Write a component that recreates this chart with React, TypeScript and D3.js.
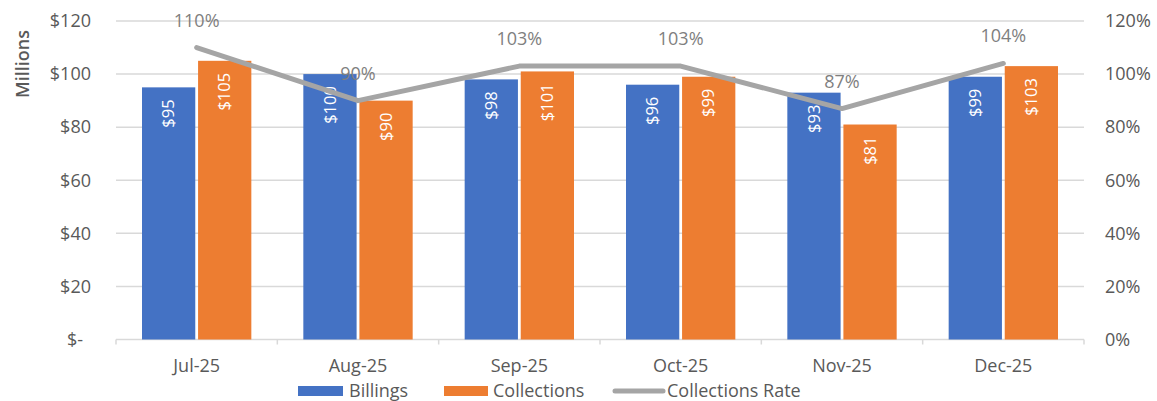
import { useEffect, useRef } from 'react'
import * as d3 from 'd3'

const months = ['Jul-25', 'Aug-25', 'Sep-25', 'Oct-25', 'Nov-25', 'Dec-25']
const billings = [95, 100, 98, 96, 93, 99]
const collections = [105, 90, 101, 99, 81, 103]
const rates = [1.1, 0.9, 1.03, 1.03, 0.87, 1.04]
const leftTicks = [0, 20, 40, 60, 80, 100, 120]
const rightTicks = [0, 0.2, 0.4, 0.6, 0.8, 1.0, 1.2]

const FONT = '"Open Sans", "Liberation Sans", sans-serif'
const BLUE = '#4472c4'
const ORANGE = '#ed7d31'
const GRAY = '#a5a5a5'
const TEXT = '#595959'
const FS = 18

export default function App() {
  const svgRef = useRef<SVGSVGElement>(null)

  useEffect(() => {
    document.body.style.margin = '0'
    const W = 1157
    const H = 401
    const left = 116
    const right = 1084
    const top = 21
    const bottom = 339.5

    const svg = d3.select(svgRef.current)
    svg.selectAll('*').remove()
    svg.attr('width', W).attr('height', H).style('font-family', FONT)

    const x = d3.scaleBand<string>().domain(months).range([left, right])
    const x1 = d3.scaleBand<string>()
      .domain(['b', 'c'])
      .range([26, x.bandwidth() - 26])
      .paddingInner(0.05)
    const y = d3.scaleLinear().domain([0, 120]).range([bottom, top])
    const yR = d3.scaleLinear().domain([0, 1.2]).range([bottom, top])

    // gridlines
    svg.append('g').selectAll('line')
      .data(leftTicks.slice(1))
      .join('line')
      .attr('x1', left).attr('x2', right)
      .attr('y1', (d) => y(d)).attr('y2', (d) => y(d))
      .attr('stroke', '#d9d9d9').attr('stroke-width', 1.5)

    // bottom axis line + ticks
    svg.append('line')
      .attr('x1', left).attr('x2', right).attr('y1', bottom).attr('y2', bottom)
      .attr('stroke', '#d9d9d9').attr('stroke-width', 1.5)
    svg.append('g').selectAll('line')
      .data(d3.range(months.length + 1))
      .join('line')
      .attr('x1', (i) => left + i * x.bandwidth()).attr('x2', (i) => left + i * x.bandwidth())
      .attr('y1', bottom).attr('y2', bottom + 5)
      .attr('stroke', '#d9d9d9').attr('stroke-width', 1.5)

    // left axis labels
    svg.append('g').selectAll('text')
      .data(leftTicks)
      .join('text')
      .attr('x', (d) => (d === 0 ? 83 : 91))
      .attr('y', (d) => y(d))
      .attr('dy', '0.35em')
      .attr('text-anchor', 'end')
      .attr('fill', TEXT).attr('font-size', FS)
      .text((d) => (d === 0 ? '$-' : `$${d}`))

    // right axis labels
    svg.append('g').selectAll('text')
      .data(rightTicks)
      .join('text')
      .attr('x', 1105)
      .attr('y', (d) => yR(d))
      .attr('dy', '0.35em')
      .attr('fill', TEXT).attr('font-size', FS)
      .text((d) => `${Math.round(d * 100)}%`)

    svg.append('text')
      .attr('transform', 'translate(29,64) rotate(-90)')
      .attr('text-anchor', 'middle')
      .attr('fill', TEXT).attr('font-size', FS).attr('font-weight', 600)
      .text('Millions')

    // category labels
    svg.append('g').selectAll('text')
      .data(months)
      .join('text')
      .attr('x', (d) => x(d)! + x.bandwidth() / 2)
      .attr('y', 372)
      .attr('text-anchor', 'middle')
      .attr('fill', TEXT).attr('font-size', FS)
      .text((d) => d)

    // bars
    const groups = svg.append('g').selectAll('g')
      .data(months)
      .join('g')
      .attr('transform', (d) => `translate(${x(d)},0)`)

    const series = [
      { key: 'b', vals: billings, color: BLUE },
      { key: 'c', vals: collections, color: ORANGE },
    ]
    series.forEach((s) => {
      groups.append('rect')
        .attr('x', x1(s.key)!)
        .attr('width', x1.bandwidth())
        .attr('y', (_, i) => y(s.vals[i]))
        .attr('height', (_, i) => bottom - y(s.vals[i]))
        .attr('fill', s.color)
      groups.append('text')
        .attr('transform', (_, i) => `translate(${x1(s.key)! + x1.bandwidth() / 2},${y(s.vals[i]) + 12}) rotate(-90)`)
        .attr('text-anchor', 'end')
        .attr('dy', '0.35em')
        .attr('fill', '#ffffff').attr('font-size', 16.5)
        .text((_, i) => `$${s.vals[i]}`)
    })

    // rate line
    const line = d3.line<number>()
      .x((_, i) => x(months[i])! + x.bandwidth() / 2)
      .y((d) => yR(d))
    svg.append('path')
      .datum(rates)
      .attr('d', line)
      .attr('fill', 'none')
      .attr('stroke', GRAY).attr('stroke-width', 5)
      .attr('stroke-linejoin', 'round').attr('stroke-linecap', 'round')

    svg.append('g').selectAll('text')
      .data(rates)
      .join('text')
      .attr('x', (_, i) => x(months[i])! + x.bandwidth() / 2)
      .attr('y', (d) => yR(d) - 21)
      .attr('text-anchor', 'middle')
      .attr('fill', '#7f7f7f').attr('font-size', FS)
      .text((d) => `${Math.round(d * 100)}%`)

    // legend
    const lg = svg.append('g').attr('transform', 'translate(0,391)')
    lg.append('rect').attr('x', 298).attr('y', -5).attr('width', 45).attr('height', 10).attr('fill', BLUE)
    lg.append('text').attr('x', 349).attr('dy', '0.33em').attr('fill', TEXT).attr('font-size', FS).text('Billings')
    lg.append('rect').attr('x', 444).attr('y', -5).attr('width', 44).attr('height', 10).attr('fill', ORANGE)
    lg.append('text').attr('x', 493).attr('dy', '0.33em').attr('fill', TEXT).attr('font-size', FS).text('Collections')
    lg.append('line').attr('x1', 615).attr('x2', 663).attr('y1', 0).attr('y2', 0)
      .attr('stroke', GRAY).attr('stroke-width', 5).attr('stroke-linecap', 'round')
    lg.append('text').attr('x', 667).attr('dy', '0.33em').attr('fill', TEXT).attr('font-size', FS).text('Collections Rate')
  }, [])

  return <svg ref={svgRef} style={{ display: 'block' }} />
}
